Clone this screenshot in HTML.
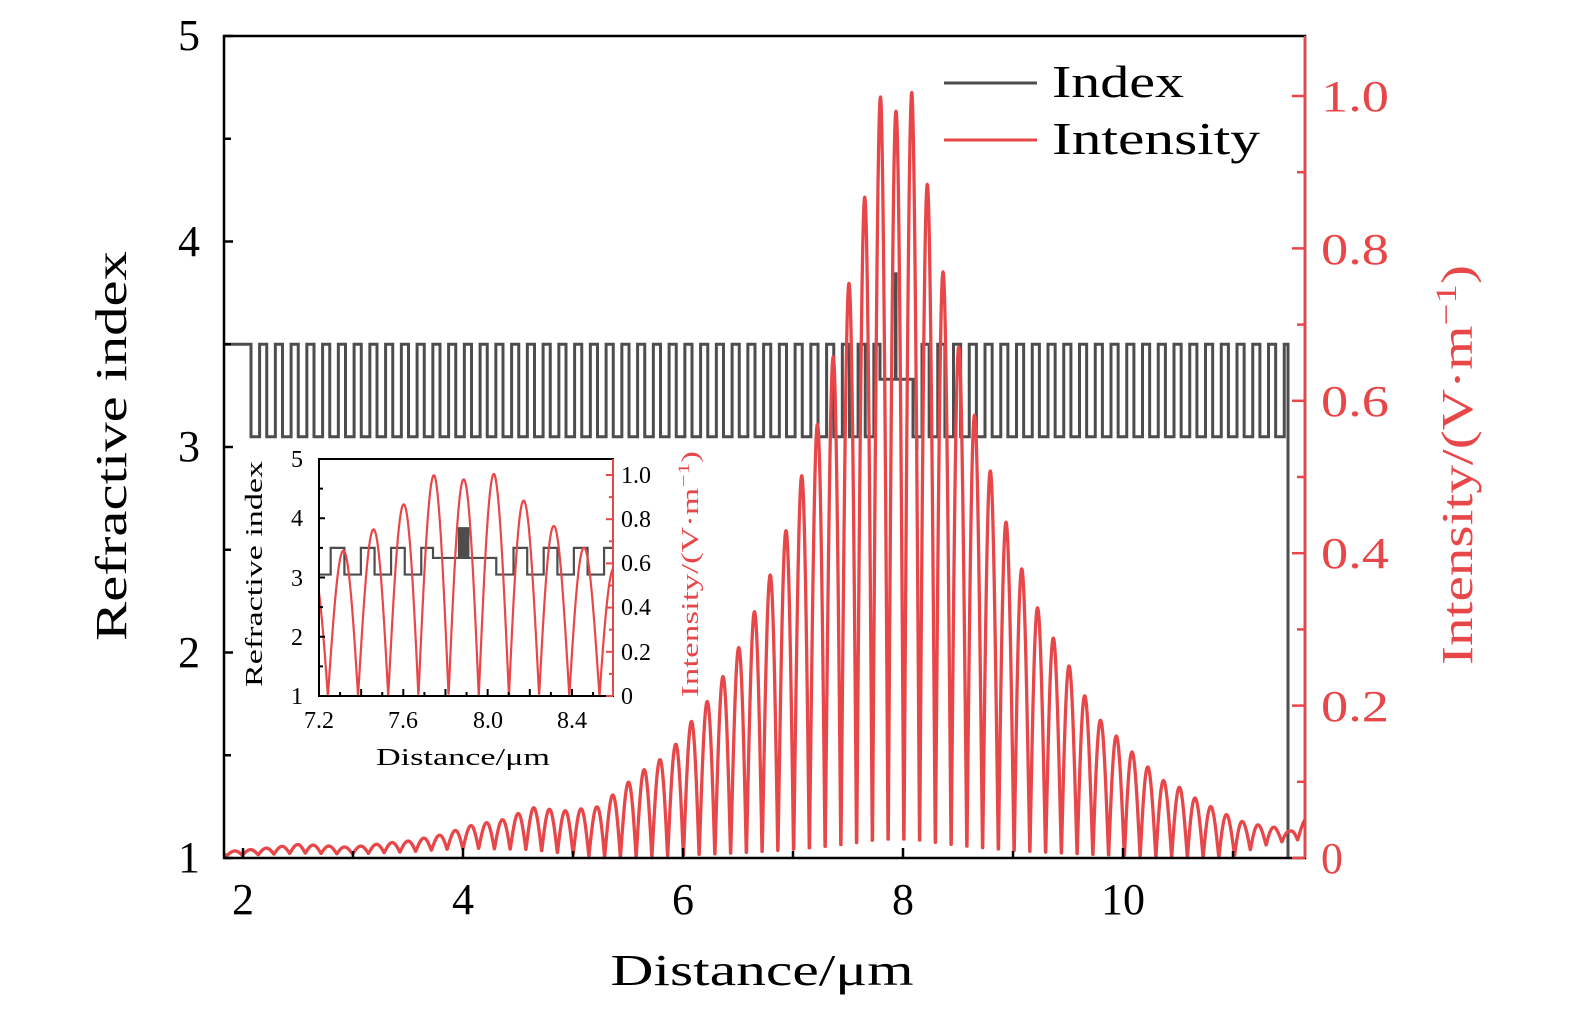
<!DOCTYPE html>
<html><head><meta charset="utf-8">
<style>
html,body{margin:0;padding:0;background:#fff;}
svg{display:block;}
text{font-family:"Liberation Serif",serif;}
</style></head>
<body>
<svg id="s" width="1575" height="1014" viewBox="0 0 1575 1014" xmlns="http://www.w3.org/2000/svg">
<g id="main"></g>
<rect x="224" y="36" width="1081" height="822" fill="none" stroke="#000" stroke-width="2.5"/>
<line x1="1305" y1="36" x2="1305" y2="858" stroke="#e8474a" stroke-width="2.5"/>
<g id="ticks"></g>
<g font-size="44" fill="#000" text-anchor="middle">
<text x="189" y="50">5</text><text x="189" y="256">4</text><text x="189" y="461">3</text><text x="189" y="667">2</text><text x="189" y="872">1</text>
<text x="243" y="914">2</text><text x="463" y="914">4</text><text x="683" y="914">6</text><text x="903" y="914">8</text><text x="1123" y="914">10</text>
<text x="762" y="985" textLength="303" lengthAdjust="spacingAndGlyphs">Distance/μm</text>
<text transform="translate(126,446) rotate(-90)" textLength="390" lengthAdjust="spacingAndGlyphs">Refractive index</text>
</g>
<g font-size="44" fill="#e8474a" text-anchor="start">
<text x="1321" y="111" textLength="68" lengthAdjust="spacingAndGlyphs">1.0</text>
<text x="1321" y="264" textLength="68" lengthAdjust="spacingAndGlyphs">0.8</text>
<text x="1321" y="416" textLength="68" lengthAdjust="spacingAndGlyphs">0.6</text>
<text x="1321" y="568" textLength="68" lengthAdjust="spacingAndGlyphs">0.4</text>
<text x="1321" y="721" textLength="68" lengthAdjust="spacingAndGlyphs">0.2</text>
<text x="1321" y="873">0</text>
<text transform="translate(1472,665) rotate(-90)" textLength="400" lengthAdjust="spacingAndGlyphs">Intensity/(V·m<tspan dy="-16" font-size="30">−1</tspan><tspan dy="16">)</tspan></text>
</g>
<line x1="944" y1="83" x2="1037" y2="83" stroke="#4d4d4d" stroke-width="3"/>
<line x1="944" y1="140" x2="1037" y2="140" stroke="#e8474a" stroke-width="3"/>
<text x="1052" y="97" font-size="46" textLength="132" lengthAdjust="spacingAndGlyphs">Index</text>
<text x="1052" y="154" font-size="46" textLength="208" lengthAdjust="spacingAndGlyphs">Intensity</text>
<rect x="319" y="459" width="294" height="237" fill="#fff" stroke="none"/>
<g id="inset"></g>
<rect x="319" y="459" width="294" height="237" fill="none" stroke="#000" stroke-width="2"/>
<line x1="613" y1="459" x2="613" y2="696" stroke="#e8474a" stroke-width="2"/>
<g id="iticks"></g>
<g font-size="24" fill="#000" text-anchor="middle">
<text x="297" y="467">5</text><text x="297" y="526">4</text><text x="297" y="586">3</text><text x="297" y="645">2</text><text x="297" y="704">1</text>
<text x="319" y="728">7.2</text><text x="403" y="728">7.6</text><text x="488" y="728">8.0</text><text x="572" y="728">8.4</text>
<text x="463" y="765" textLength="174" lengthAdjust="spacingAndGlyphs">Distance/μm</text>
<text transform="translate(262,574) rotate(-90)" textLength="226" lengthAdjust="spacingAndGlyphs">Refractive index</text>
</g>
<g font-size="24" fill="#000" text-anchor="start">
<text x="621" y="483">1.0</text><text x="621" y="527">0.8</text><text x="621" y="571">0.6</text><text x="621" y="615">0.4</text><text x="621" y="660">0.2</text><text x="621" y="704">0</text>
</g>
<text transform="translate(698,697) rotate(-90)" font-size="24" fill="#e8474a" textLength="246" lengthAdjust="spacingAndGlyphs">Intensity/(V·m<tspan dy="-9" font-size="16">−1</tspan><tspan dy="9">)</tspan></text>
</svg>
<script>
(function(){
var NS="http://www.w3.org/2000/svg";
function el(p,t,a){var e=document.createElementNS(NS,t);for(var k in a)e.setAttribute(k,a[k]);p.appendChild(e);return e;}
var RED="#e8474a",GRAY="#4d4d4d";
var T=[[223,0.008],[260,0.012],[300,0.018],[350,0.014],[390,0.02],[407,0.022],[440,0.03],[472,0.043],[502,0.05],[533,0.066],[565,0.062],[597,0.067],[612,0.082],[627,0.098],[643,0.115],[659,0.128],[675,0.148],[690,0.177],[706,0.203],[722,0.236],[739,0.277],[755,0.325],[771,0.374],[786,0.43],[801,0.499],[818,0.572],[833,0.657],[849,0.755],[865,0.87],[881,1.004],[896,0.98],[912,1.005],[927,0.887],[943,0.77],[959,0.67],[975,0.579],[991,0.505],[1007,0.437],[1023,0.375],[1038,0.327],[1054,0.287],[1070,0.25],[1086,0.21],[1101,0.18],[1118,0.158],[1133,0.138],[1149,0.118],[1165,0.1],[1181,0.092],[1197,0.077],[1213,0.066],[1228,0.056],[1244,0.047],[1260,0.043],[1276,0.04],[1290,0.035],[1305,0.05]];
function env(x){if(x<=T[0][0])return T[0][1];for(var i=1;i<T.length;i++){if(x<=T[i][0]){var a=T[i-1],b=T[i],t=(x-a[0])/(b[0]-a[0]);return a[1]+(b[1]-a[1])*t;}}return T[T.length-1][1];}
function fl(x){if(x<440)return 0.35;if(x<600)return 0.35*(600-x)/160;if(x>1230)return Math.min(0.55,0.55*(x-1230)/50);return 0;}
function I(x){var c=Math.abs(Math.cos(Math.PI*(x-896)/15.75));var f=fl(x);return env(x)*(f+(1-f)*c);}
var pts=[[224,3.5],[251,3.5]];
var x=251,lowW=8.6,P=15.75,hi=false;
pts.push([251,3.05]);
while(true){var w=hi?P-lowW:lowW;var nx=x+w;if(nx>=880){pts.push([880,hi?3.5:3.05]);break;}pts.push([nx,hi?3.5:3.05]);hi=!hi;pts.push([nx,hi?3.5:3.05]);x=nx;}
pts.push([880,3.33]);pts.push([913,3.33]);pts.push([913,3.05]);pts.push([922,3.05]);
x=922;hi=true;pts.push([922,3.5]);
while(true){var w2=hi?P-lowW:lowW;var nx2=x+w2;if(nx2>=1288){pts.push([1288,hi?3.5:3.05]);break;}pts.push([nx2,hi?3.5:3.05]);hi=!hi;pts.push([nx2,hi?3.5:3.05]);x=nx2;}
pts.push([1288,1]);
var g=document.getElementById("main");
function my(n){return 858-(n-1)*205.5;}
var d="";pts.forEach(function(p,i){d+=(i?"L":"M")+p[0].toFixed(2)+","+my(p[1]).toFixed(2);});
el(g,"path",{d:d,fill:"none",stroke:GRAY,"stroke-width":3});
el(g,"rect",{x:894,y:my(3.85),width:3.5,height:my(3.33)-my(3.85),fill:GRAY});
el(g,"line",{x1:917,y1:my(3.05),x2:917,y2:451,stroke:GRAY,"stroke-width":3});
var dr="";for(var xx=224;xx<=1305;xx+=0.25){var v=I(xx);dr+=(xx==224?"M":"L")+xx.toFixed(2)+","+(858-v*762).toFixed(2);}
el(g,"path",{d:dr,fill:"none",stroke:RED,"stroke-width":3.3,"stroke-linejoin":"round"});
var tk=document.getElementById("ticks");
for(var n=1;n<=5;n+=0.5){var y=my(n);var L=(n%1==0)?9:7;el(tk,"line",{x1:224,y1:y,x2:224+L,y2:y,stroke:"#000","stroke-width":2.5});}
for(var u=2;u<=11;u++){var xp=243+(u-2)*110;var L2=(u%2==0)?10:7;el(tk,"line",{x1:xp,y1:858,x2:xp,y2:858-L2,stroke:"#000","stroke-width":2.5});}
for(var r=0;r<=1.0001;r+=0.1){var yy=858-r*762;var L3=(Math.round(r*10)%2==0)?13:8;el(tk,"line",{x1:1305-L3,y1:yy,x2:1305,y2:yy,stroke:RED,"stroke-width":2.5});}
var ig=document.getElementById("inset");
function ix(mx){var mu=2+(mx-243)/110;return 319+(mu-0.05-7.2)*210.8;}
function iinv(px){var mu=7.2+(px-319)/210.8+0.05;return 243+(mu-2)*110;}
function iy(n){return 696-(n-1)*59.25;}
var cp=document.createElementNS(NS,"clipPath");cp.setAttribute("id","ic");el(cp,"rect",{x:319,y:459,width:294,height:237});ig.appendChild(cp);
var gi=el(ig,"g",{"clip-path":"url(#ic)"});
var di="";pts.forEach(function(p,i){di+=(i?"L":"M")+ix(p[0]).toFixed(2)+","+iy(p[1]).toFixed(2);});
el(gi,"path",{d:di,fill:"none",stroke:GRAY,"stroke-width":2.2});
el(gi,"rect",{x:ix(893),y:iy(3.85),width:ix(899)-ix(893),height:iy(3.33)-iy(3.85),fill:GRAY});
var dri="";for(var px=319;px<=613;px+=0.25){var v2=I(iinv(px));dri+=(px==319?"M":"L")+px.toFixed(2)+","+(696-v2*221).toFixed(2);}
el(gi,"path",{d:dri,fill:"none",stroke:RED,"stroke-width":2.2,"stroke-linejoin":"round"});
var it=document.getElementById("iticks");
for(var n2=1;n2<=5;n2+=0.5){var y2=iy(n2);el(it,"line",{x1:319,y1:y2,x2:319+((n2%1==0)?6:4),y2:y2,stroke:"#000","stroke-width":2});}
for(var k=0;k<=13;k++){var mu=7.2+k*0.1;var xk=319+(mu-7.2)*210.8;if(xk>613)break;el(it,"line",{x1:xk,y1:696,x2:xk,y2:696-((k%2==0)?7:4),stroke:"#000","stroke-width":2});}
for(var r2=0;r2<=1.0001;r2+=0.1){var y3=696-r2*221;el(it,"line",{x1:613-((Math.round(r2*10)%2==0)?7:4),y1:y3,x2:613,y2:y3,stroke:RED,"stroke-width":2});}
})();
</script>
</body></html>
